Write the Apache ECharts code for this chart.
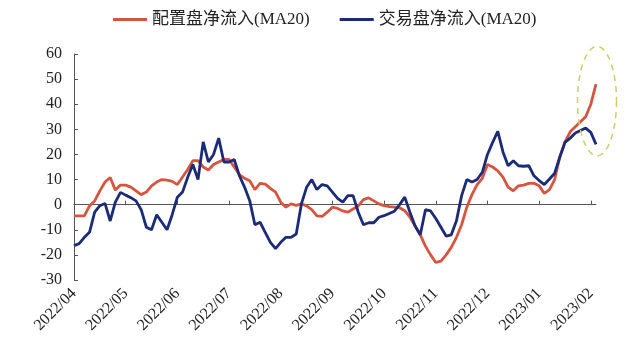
<!DOCTYPE html>
<html><head><meta charset="utf-8">
<script src="https://cdn.jsdelivr.net/npm/echarts@6/dist/echarts.min.js"></script>
<style>html,body{margin:0;padding:0;background:#fff}#c{width:640px;height:355px}</style>
</head><body><div id="c"></div>
<script>
const monthLabels = ['2022/04','2022/05','2022/06','2022/07','2022/08','2022/09','2022/10','2022/11','2022/12','2023/01','2023/02'];
const pointsPerMonth = 10;
const seriesNames = ['配置盘净流入(MA20)', '交易盘净流入(MA20)'];
const yTicks = { min: -30, max: 60, step: 10 };

const allocationFlow = [
  -4.5,-4.5,-4.5,-0.5,1.5,5.5,9,10.8,5.8,7.8,
  7.8,7,5.5,4,5,7.5,9,10,9.8,9.3,
  8,11,14,17.5,17.5,15,13.8,16,17,18,
  18,15,12,10.5,9.5,6,8.5,8.2,6.5,5,
  1,-1,0.3,-0.3,0.3,-0.5,-2,-4.5,-4.7,-3,
  -1,-1.5,-2.5,-3,-1.7,-0.5,2,2.7,1.5,0.3,
  -0.4,-0.8,-1,-1.2,-2.4,-5,-8.5,-12,-16.5,-20,
  -23,-22.5,-20,-17,-13,-8,-1,4,8,10.5,
  16,15,13.5,11,7,5.5,7.5,7.8,8.5,8.5,
  7.5,4.5,6,10,19,25,29,31,33,35,
  40,48
];
const tradingFlow = [
  -16.3,-15.5,-13,-11,-3,-0.4,0.5,-6.5,1,4.9,
  3.8,2.8,1.5,-2,-9,-10,-4,-7,-10,-4,
  3,5,10.9,16,10,25,17,20,26.5,17,
  17,18,11.5,7,1.6,-8,-7,-11,-15,-17.5,
  -15,-13,-13,-11.7,0.3,6.9,10,6,8,7.5,
  5,2.5,1,3.6,3.6,-3,-8,-7.2,-7.2,-5,
  -4.4,-3.5,-2.6,0,3,-3,-8.5,-12,-2,-2.5,
  -5.5,-9,-12.5,-12,-6.4,3.6,10,9,10,12.9,
  20,24.8,29.2,21,15.5,17.5,15.5,15.3,15.5,11.5,
  9.6,8,10.2,12.5,19,24.8,26.5,28.5,29.5,30.5,
  28.8,24
];
const categories = allocationFlow.map((_, i) => String(i));

const FONT = "'Liberation Serif', 'Noto Sans CJK SC', serif";
const RED = '#D6553F';
const BLUE = '#1C2B78';
const AXIS = '#555555';

const chart = echarts.init(document.getElementById('c'), null, { renderer: 'canvas' });
chart.setOption({
  backgroundColor: '#fff',
  animation: false,
  legend: {
    top: 6, left: 108, itemGap: 30, itemWidth: 34, itemHeight: 3,
    icon: 'rect',
    textStyle: { fontFamily: FONT, fontSize: 17, color: '#222' },
    data: seriesNames
  },
  grid: { left: 74, right: 44, top: 54, bottom: 75 },
  xAxis: [
    {
      type: 'category', data: categories, boundaryGap: false, position: 'bottom',
      axisLine: { show: false, onZero: false }, axisTick: { show: false },
      axisLabel: {
        interval: pointsPerMonth - 1, rotate: 45, margin: 11,
        fontFamily: FONT, fontSize: 16, color: '#222',
        formatter: (v, i) => (i % pointsPerMonth === 0 ? (monthLabels[i / pointsPerMonth] || '') : '')
      },
      splitLine: { show: false }
    },
    {
      type: 'category', data: categories, boundaryGap: false, position: 'bottom',
      axisLine: { show: true, onZero: true, lineStyle: { color: AXIS, width: 1 } },
      axisTick: { show: true, inside: true, length: 4, interval: pointsPerMonth - 1, lineStyle: { color: AXIS } },
      axisLabel: { show: false }, splitLine: { show: false }
    }
  ],
  yAxis: {
    type: 'value', min: yTicks.min, max: yTicks.max, interval: yTicks.step,
    axisLine: { show: true, lineStyle: { color: AXIS, width: 1 } },
    axisTick: { show: true, inside: true, length: 4, lineStyle: { color: AXIS } },
    axisLabel: { fontFamily: FONT, fontSize: 16, color: '#222', margin: 12 },
    splitLine: { show: false }
  },
  series: [
    { name: seriesNames[0], type: 'line', data: allocationFlow, xAxisIndex: 0, showSymbol: false, symbol: 'none',
      lineStyle: { color: RED, width: 2.8 }, itemStyle: { color: RED }, z: 3 },
    { name: seriesNames[1], type: 'line', data: tradingFlow, xAxisIndex: 0, showSymbol: false, symbol: 'none',
      lineStyle: { color: BLUE, width: 2.8 }, itemStyle: { color: BLUE }, z: 4 }
  ]
});

// dashed ellipse annotation around the latest values
const last = allocationFlow.length - 1;
const cTop = chart.convertToPixel({ xAxisIndex: 0, yAxisIndex: 0 }, [last, 63]);
const cBot = chart.convertToPixel({ xAxisIndex: 0, yAxisIndex: 0 }, [last, 19.5]);
const cx = cTop[0] + 1, cy = (cTop[1] + cBot[1]) / 2, ry = (cBot[1] - cTop[1]) / 2, rx = 19.5;
const pts = [];
for (let k = 0; k <= 72; k++) { const a = k / 72 * Math.PI * 2; pts.push([cx + rx * Math.cos(a), cy + ry * Math.sin(a)]); }
chart.setOption({
  graphic: [{
    type: 'polygon', shape: { points: pts }, silent: true, z: 10,
    style: { fill: 'none', stroke: '#D2CC66', lineWidth: 1.5, lineDash: [6, 5] }
  }]
});
</script>
</body></html>
